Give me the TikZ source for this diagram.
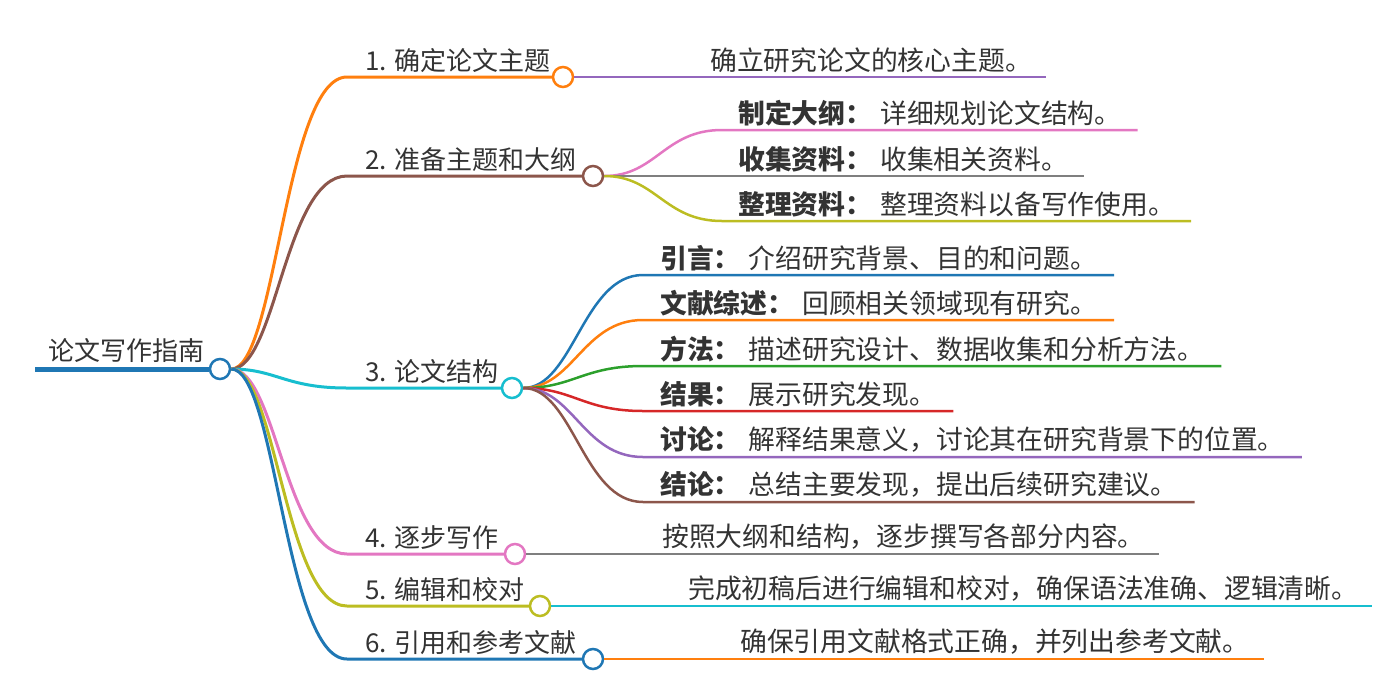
\documentclass[tikz,border=0pt]{standalone}
\usepackage{fontspec}
\setmainfont{Noto Sans CJK SC}
\usepackage{xcolor}
\usetikzlibrary{positioning, calc}
\definecolor{tblue}{HTML}{1F77B4}
\definecolor{torange}{HTML}{FF7F0E}
\definecolor{tgreen}{HTML}{2CA02C}
\definecolor{tred}{HTML}{D62728}
\definecolor{tpurple}{HTML}{9467BD}
\definecolor{tbrown}{HTML}{8C564B}
\definecolor{tpink}{HTML}{E377C2}
\definecolor{tgray}{HTML}{7F7F7F}
\definecolor{tolive}{HTML}{BCBD22}
\definecolor{tcyan}{HTML}{17BECF}
\definecolor{inkgray}{HTML}{333333}
\tikzset{
  topic/.style={anchor=south west, inner xsep=18pt, inner ysep=4pt, text=inkgray,
    font=\fontsize{26}{31}\selectfont},
  leaf/.style={topic, inner xsep=14pt, font=\fontsize{26.8}{32}\selectfont},
  sub/.style={leaf, inner xsep=17pt},
  dot/.style={circle, draw=#1, line width=2.5pt, fill=white, minimum size=20pt, inner sep=0pt},
  branch/.style={line width=3pt},
  twig/.style={line width=2.5pt}
}

\begin{document}
\begin{tikzpicture}[x=1pt, y=-1pt]
  \useasboundingbox (0,0) rectangle (1396,689);

  % root
  \node[topic, inner xsep=13pt, inner ysep=6pt] (root) at (35,369) {论文写作指南};
  \node[dot=tblue] (c0) at (220,369) {};
  \draw[tblue, line width=5pt] (root.south west) -- (c0.west);

  % first level topics
  \node[topic] (t1) at (347,77) {1. 确定论文主题};
  \node[topic] (t2) at (347,176) {2. 准备主题和大纲};
  \node[topic] (t3) at (347,388) {3. 论文结构};
  \node[topic] (t4) at (347,554) {4. 逐步写作};
  \node[topic] (t5) at (347,606) {5. 编辑和校对};
  \node[topic] (t6) at (347,659) {6. 引用和参考文献};

  \draw[torange, branch] (c0.east) .. controls +(45,0) and +(-62,0) .. (t1.south west) -- (563,77);
  \draw[tbrown, branch] (c0.east) .. controls +(45,0) and +(-62,0) .. (t2.south west) -- (593,176);
  \draw[tcyan, branch] (c0.east) .. controls +(45,0) and +(-62,0) .. (t3.south west) -- (512,388);
  \draw[tpink, branch] (c0.east) .. controls +(45,0) and +(-62,0) .. (t4.south west) -- (515,554);
  \draw[tolive, branch] (c0.east) .. controls +(45,0) and +(-62,0) .. (t5.south west) -- (540,606);
  \draw[tblue, branch] (c0.east) .. controls +(45,0) and +(-62,0) .. (t6.south west) -- (593,659);

  \node[dot=torange] (c1) at (563,77) {};
  \node[dot=tbrown] (c2) at (593,176) {};
  \node[dot=tcyan] (c3) at (512,388) {};
  \node[dot=tpink] (c4) at (515,554) {};
  \node[dot=tolive] (c5) at (540,606) {};
  \node[dot=tblue] (c6) at (593,659) {};

  % single descriptions
  \node[leaf] (d1) at (696,77) {确立研究论文的核心主题。};
  \node[leaf] (d4) at (648,554) {按照大纲和结构，逐步撰写各部分内容。};
  \node[leaf] (d5) at (674,606) {完成初稿后进行编辑和校对，确保语法准确、逻辑清晰。};
  \node[leaf] (d6) at (726,659) {确保引用文献格式正确，并列出参考文献。};
  \draw[tpurple, twig] (c1.east) -- (d1.south west) -- (d1.south east);
  \draw[tgray, twig] (c4.east) -- (d4.south west) -- (d4.south east);
  \draw[tcyan, twig] (c5.east) -- (d5.south west) -- (d5.south east);
  \draw[torange, twig] (c6.east) -- (d6.south west) -- (d6.south east);

  % outline steps
  \foreach \y/\col/\head/\txt [count=\i] in {
      130/tpink/制定大纲/详细规划论文结构。,
      176/tgray/收集资料/收集相关资料。,
      221/tolive/整理资料/整理资料以备写作使用。} {
    \node[sub, inner xsep=16pt] (p\i) at (722,\y) {\textbf{\head：}\hspace{8pt}\txt};
    \draw[\col, twig] (c2.east) .. controls +(52,0) and +(-58,0) .. (p\i.south west) -- (p\i.south east);
  }

  % paper parts
  \foreach \y/\col/\head/\txt [count=\i] in {
      275/tblue/引言/介绍研究背景、目的和问题。,
      320/torange/文献综述/回顾相关领域现有研究。,
      366/tgreen/方法/描述研究设计、数据收集和分析方法。,
      411/tred/结果/展示研究发现。,
      457/tpurple/讨论/解释结果意义，讨论其在研究背景下的位置。,
      502/tbrown/结论/总结主要发现，提出后续研究建议。} {
    \node[sub] (s\i) at (643,\y) {\textbf{\head：}\hspace{8pt}\txt};
    \draw[\col, twig] (c3.east) .. controls +(50,0) and +(-60,0) .. (s\i.south west) -- (s\i.south east);
  }
\end{tikzpicture}
\end{document}
